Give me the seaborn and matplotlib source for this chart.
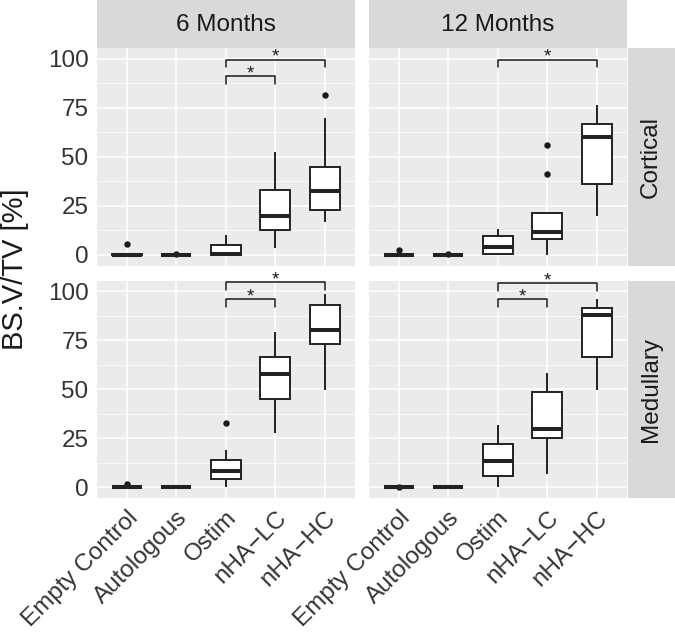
import pandas as pd
import matplotlib.pyplot as plt
import seaborn as sns

# groups in plotting order
groups = ["Empty Control", "Autologous", "Ostim", "nHA\u2212LC", "nHA\u2212HC"]
months = ["6 Months", "12 Months"]
regions = ["Cortical", "Medullary"]

# BS.V/TV [%] per animal
cortical_6m = {
    "Empty Control": [0, 0, 0, 0, 0, 0.3, 5.6],
    "Autologous": [0, 0, 0, 0, 0, 0.4],
    "Ostim": [0, 0, 0.5, 4.9, 10.0],
    "nHA\u2212LC": [3.4, 12.6, 19.6, 33.0, 52.4],
    "nHA\u2212HC": [16.7, 20.0, 22.6, 28.0, 32.3, 40.0, 44.7, 69.7, 81.8],
}
cortical_12m = {
    "Empty Control": [0, 0, 0, 0, 0, 2.4],
    "Autologous": [0, 0, 0, 0, 0, 0.2],
    "Ostim": [0, 0.3, 3.7, 9.7, 12.9],
    "nHA\u2212LC": [0, 5.0, 8.2, 10.0, 11.4, 15.0, 21.1, 41.0, 56.0],
    "nHA\u2212HC": [19.6, 36.2, 60.0, 67.0, 76.5],
}
medullary_6m = {
    "Empty Control": [0, 0, 0, 0, 1.7],
    "Autologous": [0, 0, 0, 0, 0],
    "Ostim": [0, 2.0, 4.4, 6.0, 8.1, 11.0, 13.9, 19.0, 32.7],
    "nHA\u2212LC": [27.5, 45.3, 57.8, 66.3, 79.5],
    "nHA\u2212HC": [49.8, 73.0, 80.5, 93.0, 98.6],
}
medullary_12m = {
    "Empty Control": [0, 0, 0, 0, 0.3],
    "Autologous": [0, 0, 0, 0, 0],
    "Ostim": [0, 5.6, 13.4, 22.0, 32.0],
    "nHA\u2212LC": [6.6, 25.3, 29.7, 48.5, 58.1],
    "nHA\u2212HC": [49.8, 66.6, 88.0, 91.7, 95.9],
}

# significance brackets: (from, to, height)
brackets_cortical_6m = [("Ostim", "nHA\u2212LC", 91.2), ("Ostim", "nHA\u2212HC", 99.5)]
brackets_cortical_12m = [("Ostim", "nHA\u2212HC", 99.5)]
brackets_medullary_6m = [("Ostim", "nHA\u2212LC", 96.1), ("Ostim", "nHA\u2212HC", 104.6)]
brackets_medullary_12m = [("Ostim", "nHA\u2212LC", 96.0), ("Ostim", "nHA\u2212HC", 104.2)]

panels = {
    ("Cortical", "6 Months"): (cortical_6m, brackets_cortical_6m),
    ("Cortical", "12 Months"): (cortical_12m, brackets_cortical_12m),
    ("Medullary", "6 Months"): (medullary_6m, brackets_medullary_6m),
    ("Medullary", "12 Months"): (medullary_12m, brackets_medullary_12m),
}

sns.set_theme(style="darkgrid", rc={"axes.facecolor": "#EBEBEB", "grid.color": "white"})
plt.rcParams["font.family"] = ["Liberation Sans", "DejaVu Sans"]

W, H = 675, 636
fig = plt.figure(figsize=(W / 100, H / 100), dpi=100)
fig.patch.set_facecolor("white")


def rect(x0, y0, x1, y1):
    # pixel box (top-left origin) -> figure fraction
    return [x0 / W, 1 - y1 / H, (x1 - x0) / W, (y1 - y0) / H]


col_x = [(97, 354.5), (369, 626.5)]
row_y = [(48, 265.5), (280.5, 498)]
tick_col = "#333333"
text_col = "#333333"

for r, region in enumerate(regions):
    for c, month in enumerate(months):
        data, brackets = panels[(region, month)]
        df = pd.DataFrame([(g, v) for g in groups for v in data[g]], columns=["group", "value"])
        x0, x1 = col_x[c]
        y0, y1 = row_y[r]
        ax = fig.add_axes(rect(x0, y0, x1, y1))
        sns.boxplot(data=df, x="group", y="value", order=groups, color="white",
                    linecolor="#222222", linewidth=1.4, width=0.6, showcaps=False,
                    medianprops=dict(linewidth=2.9, color="#222222"),
                    flierprops=dict(marker="o", markersize=3.6, markerfacecolor="#1a1a1a",
                                    markeredgecolor="#1a1a1a"),
                    ax=ax)
        ax.set_xlim(-0.6, 4.6)
        ax.set_ylim(-5.5, 105.6)
        ax.set_yticks([0, 25, 50, 75, 100])
        ax.set_yticks([12.5, 37.5, 62.5, 87.5], minor=True)
        ax.grid(which="major", color="white", linewidth=1.1)
        ax.grid(which="minor", axis="y", color="white", linewidth=0.55)
        ax.set_axisbelow(True)
        for s in ax.spines.values():
            s.set_visible(False)
        ax.set_xlabel("")
        ax.set_ylabel("")
        ax.tick_params(which="minor", length=0)
        ax.tick_params(axis="both", which="major", length=3.6, width=0.9, color=tick_col,
                       labelsize=17.5, labelcolor=text_col, pad=2.5)
        if c == 0:
            ax.set_yticklabels(["0", "25", "50", "75", "100"])
        else:
            ax.tick_params(axis="y", length=0, labelleft=False)
        if r == 1:
            ax.set_xticks(range(len(groups)))
            ax.set_xticklabels(groups, rotation=45, ha="right", va="top",
                               rotation_mode="anchor")
        else:
            ax.tick_params(axis="x", length=0, labelbottom=False)

        for a, b, h in brackets:
            xa, xb = groups.index(a), groups.index(b)
            ax.plot([xa, xa, xb, xb], [h - 3.8, h, h, h - 3.8], color="#1a1a1a",
                    linewidth=1.1, clip_on=False)
            ax.text((xa + xb) / 2, h - 1.0, "*", ha="center", va="baseline",
                    fontsize=13.5, color="#1a1a1a", clip_on=False)

        # column strips on top, row strips on the right
        if r == 0:
            sa = fig.add_axes(rect(x0, 0, x1, 47.5))
            sa.set_facecolor("#D9D9D9")
            sa.set_xticks([])
            sa.set_yticks([])
            for s in sa.spines.values():
                s.set_visible(False)
            sa.text(0.5, 0.47, month, ha="center", va="center", fontsize=17.5,
                    color="#1A1A1A", transform=sa.transAxes)
        if c == 1:
            sa = fig.add_axes(rect(627.5, y0, 675, y1))
            sa.set_facecolor("#D9D9D9")
            sa.set_xticks([])
            sa.set_yticks([])
            for s in sa.spines.values():
                s.set_visible(False)
            sa.text(0.5, 0.5, region, ha="center", va="center", rotation=90,
                    fontsize=17.5, color="#1A1A1A", transform=sa.transAxes)

fig.text(15 / W, 1 - 269 / H, "BS.V/TV [%]", rotation=90, ha="center", va="center",
         fontsize=21, color="#1A1A1A")

fig.savefig("out.png", dpi=100)
